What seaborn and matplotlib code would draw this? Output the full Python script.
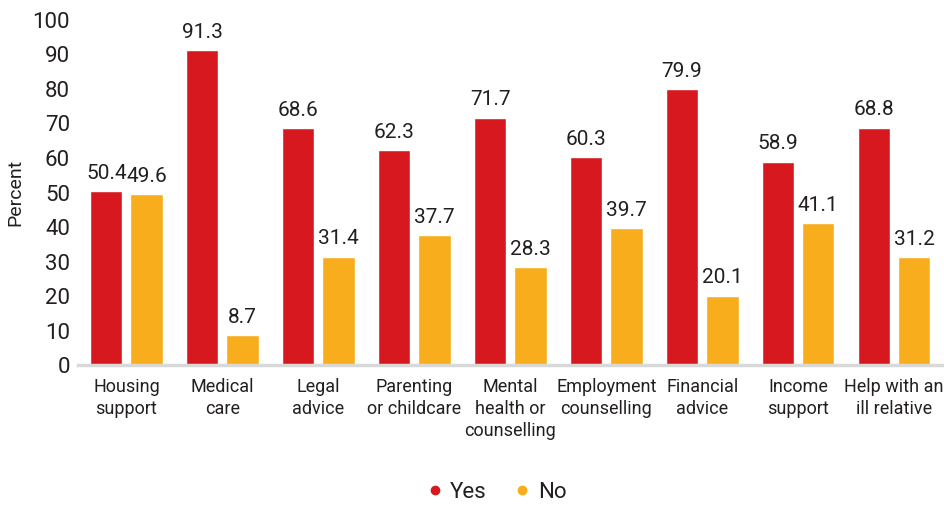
import matplotlib
matplotlib.use("Agg")
import matplotlib.pyplot as plt
from matplotlib import font_manager
from matplotlib.lines import Line2D
import seaborn as sns
import pandas as pd

categories = [
    "Housing\nsupport", "Medical\ncare", "Legal\nadvice", "Parenting\nor childcare",
    "Mental\nhealth or\ncounselling", "Employment\ncounselling", "Financial\nadvice",
    "Income\nsupport", "Help with an\nill relative",
]
yes_values = [50.4, 91.3, 68.6, 62.3, 71.7, 60.3, 79.9, 58.9, 68.8]
no_values = [49.6, 8.7, 31.4, 37.7, 28.3, 39.7, 20.1, 41.1, 31.2]
series_names = ["Yes", "No"]
y_ticks = [0, 10, 20, 30, 40, 50, 60, 70, 80, 90, 100]

RED = "#D7191F"
GOLD = "#F8AD1C"
TEXT = "#231F20"

sns.set_theme(style="white")
installed = {f.name for f in font_manager.fontManager.ttflist}
family = "Liberation Sans Narrow" if "Liberation Sans Narrow" in installed else "Roboto"
plt.rcParams["font.family"] = [family, "DejaVu Sans"]

df = pd.DataFrame({
    "category": categories * 2,
    "answer": [series_names[0]] * len(categories) + [series_names[1]] * len(categories),
    "value": yes_values + no_values,
})

fig = plt.figure(figsize=(9.45, 5.08), dpi=100)
ax = fig.add_axes([0.083, 0.281, 0.914, 0.68])

sns.barplot(data=df, x="category", y="value", hue="answer", order=categories,
            hue_order=series_names, palette=[RED, GOLD], width=0.84, gap=0.2,
            saturation=1, legend=False, ax=ax)

for container in ax.containers:
    ax.bar_label(container, fmt="%.1f", padding=6, fontsize=15, color=TEXT)

ax.set_ylim(0, 100)
ax.set_xlim(-0.5, len(categories) - 0.5)
ax.set_yticks(y_ticks)
ax.set_yticklabels([str(t) for t in y_ticks], fontsize=16, color=TEXT)
ax.set_xticklabels(categories, fontsize=13, color=TEXT, linespacing=1.3)
ax.tick_params(axis="y", length=0, pad=6)
ax.tick_params(axis="x", length=0, pad=9)
ax.set_xlabel("")
ax.set_ylabel("Percent", fontsize=14, color=TEXT, labelpad=6)

for side in ["top", "right", "left"]:
    ax.spines[side].set_visible(False)
ax.spines["bottom"].set_color("#D9D9D9")
ax.spines["bottom"].set_linewidth(2.5)

handles = [Line2D([], [], marker="o", linestyle="", markersize=6, color=c) for c in (RED, GOLD)]
fig.legend(handles, series_names, loc="center", bbox_to_anchor=(0.525, 0.03), ncol=2,
           frameon=False, fontsize=16, handlelength=0.8, handletextpad=0.3,
           columnspacing=1.2, labelcolor=TEXT)

fig.savefig("out.png", dpi=100)
